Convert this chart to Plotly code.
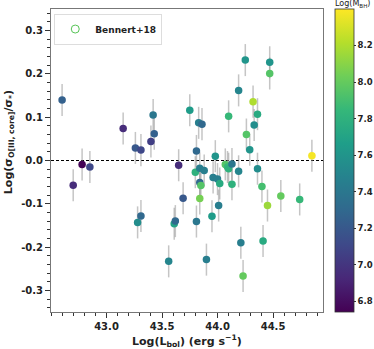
import plotly.graph_objects as go

# Data
log_lbol = [42.60, 42.70, 42.78, 42.85, 43.15, 43.26, 43.31, 43.40, 43.42, 43.43,
            43.28, 43.31, 43.56, 43.61, 43.62, 43.65, 43.69, 43.75, 43.80, 43.81,
            43.81, 43.83, 43.86, 43.84, 43.84, 43.85, 43.84, 43.88, 43.90, 43.95,
            43.96, 43.98, 44.00, 44.01, 44.02, 44.07, 44.09, 44.10, 44.10, 44.13,
            44.13, 44.19, 44.19, 44.21, 44.23, 44.25, 44.26, 44.29, 44.32, 44.33,
            44.36, 44.36, 44.40, 44.41, 44.45, 44.47, 44.47, 44.57, 44.74, 44.85]
log_ratio = [0.140, -0.057, -0.009, -0.015, 0.074, 0.029, 0.024, 0.044, 0.105, 0.062,
             -0.143, -0.128, -0.233, -0.146, -0.140, -0.011, -0.087, 0.116, -0.027, 0.022,
             -0.141, 0.087, 0.084, -0.018, -0.051, -0.058, -0.088, -0.023, -0.229, -0.129,
             -0.039, 0.010, -0.043, -0.104, -0.053, -0.009, -0.015, -0.019, 0.102, -0.008,
             -0.055, 0.162, -0.025, -0.190, -0.267, 0.232, 0.060, 0.025, 0.136, 0.082,
             0.107, -0.019, -0.060, -0.186, -0.104, 0.227, 0.201, -0.082, -0.090, 0.011]
log_mbh = [7.25, 6.95, 6.75, 7.10, 6.95, 7.20, 7.10, 7.05, 7.40, 7.25,
           7.55, 7.30, 7.50, 7.70, 7.30, 6.95, 7.20, 7.65, 7.80, 7.30,
           7.40, 7.45, 7.30, 7.45, 7.30, 7.95, 8.05, 7.45, 7.45, 7.65,
           7.45, 7.60, 7.45, 7.45, 7.75, 7.95, 7.85, 7.80, 7.85, 7.40,
           7.80, 7.50, 7.50, 7.45, 8.00, 7.60, 7.95, 7.60, 8.20, 7.55,
           7.75, 7.55, 7.90, 7.75, 8.15, 7.60, 7.95, 8.00, 7.85, 8.38]
y_err = [0.037] * len(log_lbol)
x_err = [0.03] * len(log_lbol)

x_tick_vals = [43.0, 43.5, 44.0, 44.5]
x_tick_text = ["43.0", "43.5", "44.0", "44.5"]
y_tick_vals = [-0.3, -0.2, -0.1, 0.0, 0.1, 0.2, 0.3]
y_tick_text = ["-0.3", "-0.2", "-0.1", "0.0", "0.1", "0.2", "0.3"]
cb_tick_vals = [6.8, 7.0, 7.2, 7.4, 7.6, 7.8, 8.0, 8.2]
cb_tick_text = ["6.8", "7.0", "7.2", "7.4", "7.6", "7.8", "8.0", "8.2"]

FONT = "DejaVu Sans"
TXT = "#222"

def bold(lst):
    return [f"<b>{t}</b>" for t in lst]

fig = go.Figure()
fig.add_trace(go.Scatter(
    x=log_lbol, y=log_ratio, mode="markers", showlegend=False,
    error_y=dict(type="data", array=y_err, color="rgba(150,150,150,0.55)", thickness=1.5, width=0),
    error_x=dict(type="data", array=x_err, color="rgba(150,150,150,0.55)", thickness=1.5, width=0),
    marker=dict(size=7.5, color=log_mbh, colorscale="Viridis", cmin=6.74, cmax=8.40,
                line=dict(width=0),
                colorbar=dict(x=1.045, xanchor="left", xpad=0, y=0.5, yanchor="middle",
                              len=1.0, ypad=0, thickness=19,
                              outlinewidth=0.8, outlinecolor="#333",
                              tickvals=cb_tick_vals, ticktext=bold(cb_tick_text),
                              ticks="outside", ticklen=2, tickcolor="#333",
                              tickfont=dict(family=FONT, size=8.5, color=TXT))),
))
fig.add_trace(go.Scatter(
    x=[None], y=[None], mode="markers", name="<b>Bennert+18</b>",
    marker=dict(symbol="circle-open", size=8, color="#55c455", line=dict(width=1)),
))

fig.add_shape(type="line", xref="paper", x0=0, x1=1, yref="y", y0=0, y1=0,
              line=dict(color="black", width=1, dash="3px,2px"), layer="below")

# colorbar title
fig.add_annotation(text="Log(M<sub>BH</sub>)", xref="paper", yref="paper",
                   x=1.11, y=1.018, showarrow=False, xanchor="center", yanchor="middle",
                   font=dict(family=FONT, size=8, color=TXT))
# axis titles
fig.add_annotation(text="<b>Log(L<sub>bol</sub>) (erg s<sup>−1</sup>)</b>",
                   xref="paper", yref="paper", x=0.5, y=-0.097, showarrow=False,
                   xanchor="center", yanchor="middle",
                   font=dict(family=FONT, size=11, color=TXT))
fig.add_annotation(text="<b>Log(σ<sub>O[III, core]</sub>/σ<sub>*</sub>)</b>",
                   xref="paper", yref="paper", x=-0.155, y=0.56, showarrow=False,
                   textangle=-90, xanchor="center", yanchor="middle",
                   font=dict(family=FONT, size=11, color=TXT))

fig.update_layout(
    width=374, height=349,
    margin=dict(l=51, r=51, t=9, b=37, autoexpand=False),
    paper_bgcolor="white", plot_bgcolor="white",
    font=dict(family=FONT, color=TXT),
    legend=dict(x=0.012, y=0.985, xanchor="left", yanchor="top",
                bgcolor="white", bordercolor="#ddd", borderwidth=1,
                itemwidth=30, tracegroupgap=0,
                font=dict(family=FONT, size=9, color=TXT)),
    xaxis=dict(range=[42.5, 44.95], tickvals=x_tick_vals, ticktext=bold(x_tick_text),
               ticks="outside", ticklen=5, tickwidth=1, tickcolor="#333",
               minor=dict(dtick=0.1, tick0=42.6, ticks="outside", ticklen=3, tickcolor="#333"),
               showgrid=False, zeroline=False, showline=True, linecolor="#777", mirror=True,
               automargin=False,
               tickfont=dict(family=FONT, size=10, color=TXT)),
    yaxis=dict(range=[-0.35, 0.35], tickvals=y_tick_vals, ticktext=bold(y_tick_text),
               ticks="outside", ticklen=5, tickwidth=1, tickcolor="#333",
               minor=dict(dtick=0.02, tick0=0, ticks="outside", ticklen=3, tickcolor="#333"),
               showgrid=False, zeroline=False, showline=True, linecolor="#777", mirror=True,
               automargin=False,
               tickfont=dict(family=FONT, size=10, color=TXT)),
)

fig.write_html("out.html", config={"displayModeBar": False},
               post_script="document.body.style.margin='0';document.body.style.overflow='hidden';")
